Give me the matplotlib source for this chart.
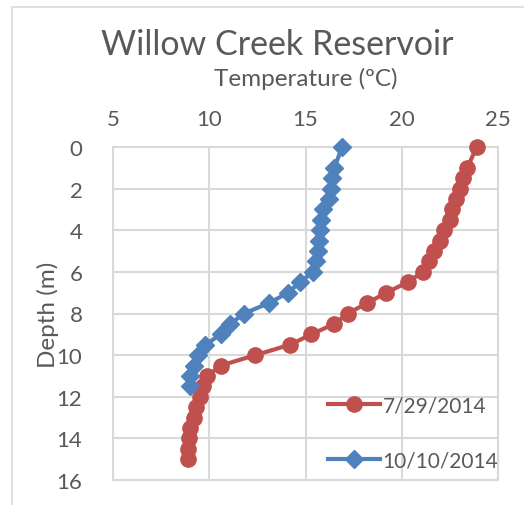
import numpy as np
import matplotlib.pyplot as plt
from matplotlib.patches import Rectangle

plt.rcParams['font.family'] = ['Lato', 'DejaVu Sans']

# depth (m) and temperature (C) profiles
depth_jul = [0, 1, 1.5, 2, 2.5, 3, 3.5, 4, 4.5, 5, 5.5, 6, 6.5, 7, 7.5,
             8, 8.5, 9, 9.5, 10, 10.5, 11, 11.5, 12, 12.5, 13, 13.5, 14, 14.5, 15]
temp_jul = [23.9, 23.4, 23.2, 23.0, 22.8, 22.6, 22.5, 22.2, 22.0, 21.7, 21.4, 21.1,
            20.3, 19.2, 18.2, 17.2, 16.5, 15.3, 14.2, 12.4, 10.6, 9.9, 9.7, 9.5,
            9.3, 9.2, 9.0, 8.95, 8.9, 8.9]

depth_oct = [0, 1, 1.5, 2, 2.5, 3, 3.5, 4, 4.5, 5, 5.5, 6, 6.5, 7, 7.5,
             8, 8.5, 9, 9.5, 10, 10.5, 11, 11.5]
temp_oct = [16.9, 16.5, 16.4, 16.3, 16.2, 15.9, 15.8, 15.75, 15.7, 15.65, 15.55, 15.4,
            14.7, 14.1, 13.1, 11.8, 11.1, 10.6, 9.8, 9.4, 9.2, 9.0, 9.0]

labels = ['7/29/2014', '10/10/2014']

red = '#C0504D'
blue = '#4F81BD'
txt = '#595959'
grid = '#D9D9D9'

fig = plt.figure(figsize=(5.24, 5.06), dpi=100)
# outer chart border
fig.patches.append(Rectangle((12/524, -0.1), 1.2, 1 - 8/506 + 0.1, transform=fig.transFigure,
                             fill=False, edgecolor=grid, linewidth=1.2))

ax = fig.add_axes([113/524, 1 - 481/506, 385/524, 333/506])
ax.plot(temp_jul, depth_jul, color=red, lw=3, marker='o', ms=11, label=labels[0], clip_on=False, zorder=3)
ax.plot(temp_oct, depth_oct, color=blue, lw=3, marker='D', ms=9.5, label=labels[1], clip_on=False, zorder=3)

ax.set_xlim(5, 25)
ax.set_ylim(16, 0)
ax.set_xticks(np.arange(5, 26, 5))
ax.set_yticks(np.arange(0, 17, 2))
ax.xaxis.tick_top()
ax.xaxis.set_label_position('top')
ax.tick_params(length=0, labelsize=16, labelcolor=txt, pad=13)
ax.tick_params(axis='y', pad=22)
ax.grid(True, color=grid, lw=1.5)
ax.set_axisbelow(True)
for s in ax.spines.values():
    s.set_color(grid)
    s.set_linewidth(1.5)

ax.set_xlabel('Temperature (ºC)', fontsize=17.5, color=txt, labelpad=17)
ax.set_ylabel('Depth (m)', fontsize=17.5, color=txt, labelpad=-2)
fig.text(277/524, 1 - 45/506, 'Willow Creek Reservoir', fontsize=24.5, color=txt, ha='center', va='center')

ax.legend(loc='upper left', bbox_to_anchor=(320/524, 1 - 388/506), bbox_transform=fig.transFigure,
          frameon=False, fontsize=15, labelcolor=txt, handlelength=2.5, handletextpad=0.1,
          labelspacing=1.7, borderaxespad=0)

fig.savefig('out.png', dpi=100)
